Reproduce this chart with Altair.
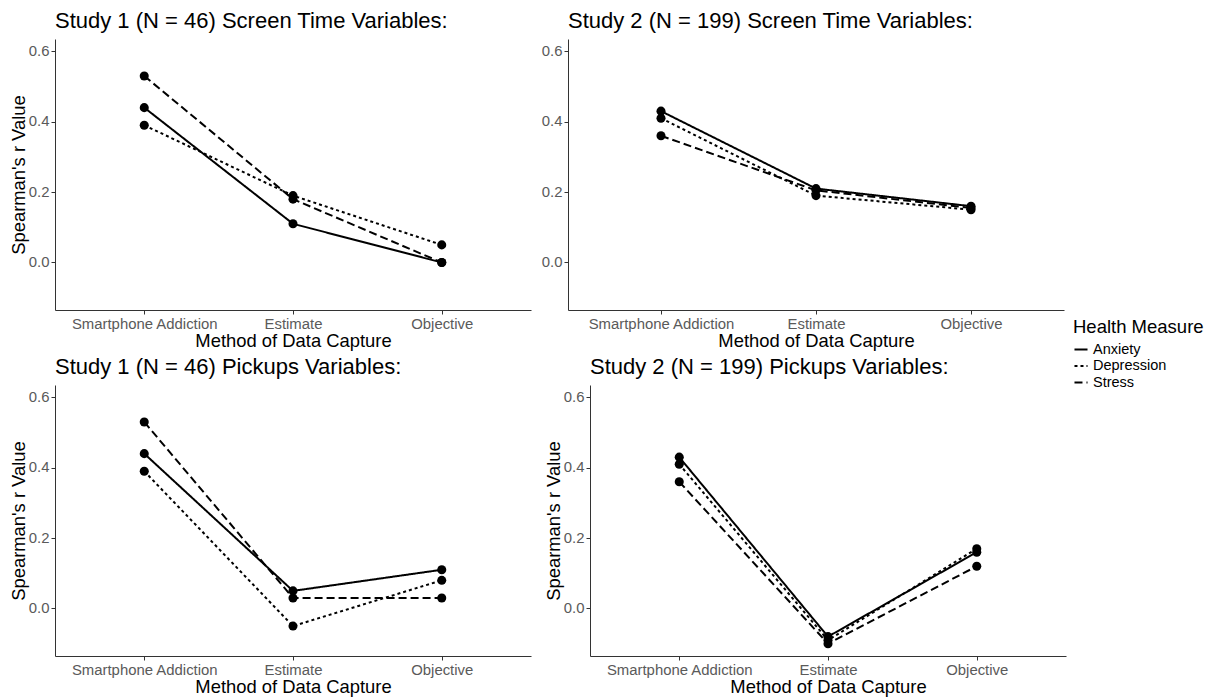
import altair as alt
import pandas as pd

# Correlations (Spearman's r) between each method of data capture and health measure
methods = ["Smartphone Addiction", "Estimate", "Objective"]
measures = ["Anxiety", "Depression", "Stress"]

s1_screen_anxiety = [0.44, 0.11, 0.00]
s1_screen_depression = [0.39, 0.19, 0.05]
s1_screen_stress = [0.53, 0.18, 0.00]

s2_screen_anxiety = [0.43, 0.21, 0.16]
s2_screen_depression = [0.41, 0.19, 0.15]
s2_screen_stress = [0.36, 0.205, 0.155]

s1_pickups_anxiety = [0.44, 0.05, 0.11]
s1_pickups_depression = [0.39, -0.05, 0.08]
s1_pickups_stress = [0.53, 0.03, 0.03]

s2_pickups_anxiety = [0.43, -0.08, 0.16]
s2_pickups_depression = [0.41, -0.09, 0.17]
s2_pickups_stress = [0.36, -0.10, 0.12]

panel_titles = {
    "s1_screen": "Study 1 (N = 46) Screen Time Variables:",
    "s2_screen": "Study 2 (N = 199) Screen Time Variables:",
    "s1_pickups": "Study 1 (N = 46) Pickups Variables:",
    "s2_pickups": "Study 2 (N = 199) Pickups Variables:",
}

panel_series = {
    "s1_screen": [s1_screen_anxiety, s1_screen_depression, s1_screen_stress],
    "s2_screen": [s2_screen_anxiety, s2_screen_depression, s2_screen_stress],
    "s1_pickups": [s1_pickups_anxiety, s1_pickups_depression, s1_pickups_stress],
    "s2_pickups": [s2_pickups_anxiety, s2_pickups_depression, s2_pickups_stress],
}

rows = []
for key, series in panel_series.items():
    for measure, values in zip(measures, series):
        for method, r in zip(methods, values):
            rows.append({"panel": key, "method": method, "measure": measure, "r": r})
df = pd.DataFrame(rows)

FONT = "Liberation Sans"

# One shared legend for the whole figure, placed to the right of the grid
health_legend = alt.Legend(
    title="Health Measure", orient="none", legendX=1018, legendY=279,
    symbolType="stroke", symbolStrokeColor="black",
    symbolStrokeWidth=2, symbolSize=170,
)


def panel(key, width, y_title=True):
    base = alt.Chart(df[df["panel"] == key]).properties(
        width=width,
        height=271,
        title=alt.TitleParams(
            panel_titles[key], anchor="start", frame="group", fontSize=22,
            font=FONT, fontWeight="normal", color="black", offset=6,
        ),
    )
    x = alt.X(
        "method:N", sort=methods,
        scale=alt.Scale(type="point", padding=0.6),
        axis=alt.Axis(title="Method of Data Capture", labelAngle=0, titlePadding=1),
    )
    y = alt.Y(
        "r:Q",
        scale=alt.Scale(domain=[-0.135, 0.635], nice=False, zero=False),
        axis=alt.Axis(
            title="Spearman's r Value" if y_title else None,
            values=[0, 0.2, 0.4, 0.6], format=".1f", titlePadding=0,
        ),
    )
    lines = base.mark_line(color="black", strokeWidth=2).encode(
        x=x, y=y,
        strokeDash=alt.StrokeDash(
            "measure:N",
            scale=alt.Scale(domain=measures, range=[[1, 0], [3, 3], [8, 4]]),
            legend=health_legend,
        ),
    )
    points = base.mark_point(filled=True, color="black", size=82, opacity=1).encode(
        x=x, y=y, detail="measure:N"
    )
    return lines + points


top = alt.hconcat(
    panel("s1_screen", 476), panel("s2_screen", 496, y_title=False), spacing=10
)
bottom = alt.hconcat(
    panel("s1_pickups", 476), panel("s2_pickups", 476), spacing=13
)

chart = alt.vconcat(top, bottom, spacing=5).properties(
    padding={"left": 9, "top": 10, "right": 0, "bottom": 0}
).configure_view(stroke=None).configure_axis(
    grid=False,
    domainColor="#333333",
    domainWidth=1,
    tickColor="#333333",
    tickSize=4,
    labelFont=FONT,
    labelFontSize=14.9,
    labelColor="#5a5a5a",
    labelPadding=2,
    titleFont=FONT,
    titleFontSize=18.4,
    titleFontWeight="normal",
    titleColor="black",
).configure_legend(
    titleFont=FONT,
    titleFontSize=18.5,
    titleFontWeight="normal",
    titleColor="black",
    labelFont=FONT,
    labelFontSize=14.5,
    labelColor="black",
    rowPadding=1.5,
)

chart.save("out.html", embed_options={"renderer": "svg", "actions": False})
